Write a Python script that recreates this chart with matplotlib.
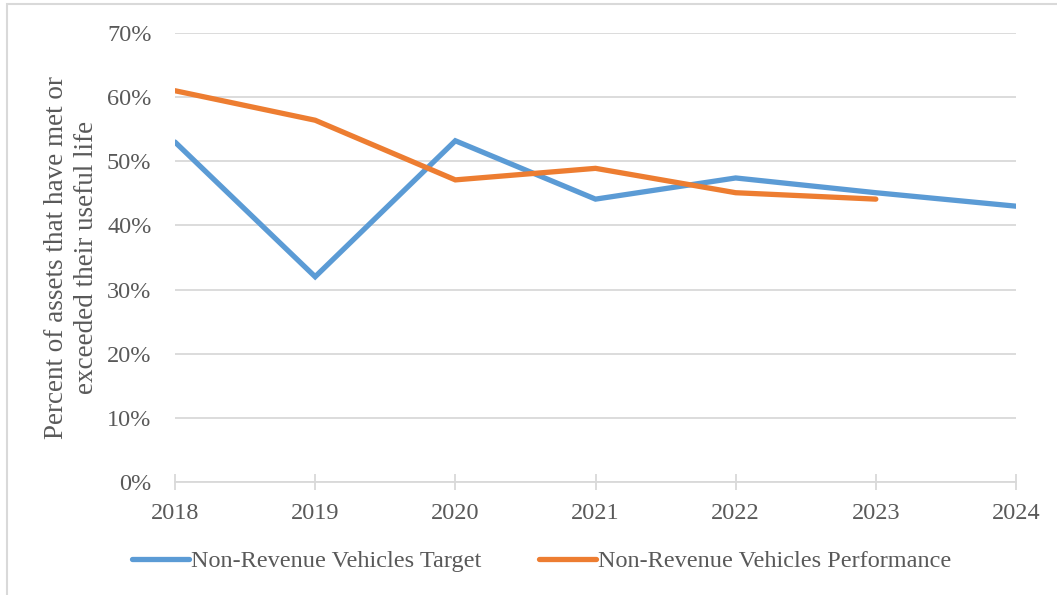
import matplotlib.pyplot as plt
from matplotlib.patches import Rectangle
from matplotlib.ticker import PercentFormatter

years = [2018, 2019, 2020, 2021, 2022, 2023, 2024]
target = [53, 32, 53.2, 44.1, 47.4, 45.1, 43]
perf_years = [2018, 2019, 2020, 2021, 2022, 2023]
performance = [61, 56.4, 47.1, 48.9, 45.1, 44.1]

BLUE = '#5B9BD5'
ORANGE = '#ED7D31'
GRID = '#d9d9d9'
TEXT = '#595959'
FS = 17.5

plt.rcParams['font.family'] = ['Liberation Serif', 'DejaVu Serif']

fig = plt.figure(figsize=(10.57, 5.95), dpi=100)
ax = fig.add_axes([175/1057, 1 - 482/595, (1016-175)/1057, (482-33)/595])

# outer chart frame (only left/top edges visible in the reference)
fig.patches.append(Rectangle((7/1057, -0.1), 1.2, 1.1 - 4/595,
                             transform=fig.transFigure, fill=False,
                             edgecolor=GRID, linewidth=1.5))

ax.plot(years, target, color=BLUE, lw=3.8, solid_capstyle='round',
        solid_joinstyle='miter', label='Non-Revenue Vehicles Target')
ax.plot(perf_years, performance, color=ORANGE, lw=3.8, solid_capstyle='round',
        solid_joinstyle='miter', label='Non-Revenue Vehicles Performance')

ax.set_xlim(2018, 2024)
ax.set_ylim(0, 70)
ax.set_yticks(range(0, 71, 10))
ax.yaxis.set_major_formatter(PercentFormatter(decimals=0))
ax.set_xticks(years)

ax.grid(axis='y', color=GRID, lw=1.3)
ax.set_axisbelow(True)
for s in ['top', 'right', 'left']:
    ax.spines[s].set_visible(False)
ax.spines['bottom'].set_color(GRID)
ax.spines['bottom'].set_linewidth(1.3)

ax.tick_params(axis='y', length=0, pad=17, labelsize=FS, labelcolor=TEXT)
ax.tick_params(axis='x', direction='inout', length=12, width=1.3, color=GRID,
               pad=9, labelsize=FS, labelcolor=TEXT)

ax.set_ylabel('Percent of assets that have met or\nexceeded their useful life',
              fontsize=19.5, color=TEXT, labelpad=6, linespacing=1.22)

fig.legend(loc='center', bbox_to_anchor=(0.5123, 1 - 561/595), ncol=2,
           frameon=False, fontsize=FS, labelcolor=TEXT, handlelength=2.35,
           handletextpad=0.05, columnspacing=2.4)

fig.savefig('out.png', dpi=100)
